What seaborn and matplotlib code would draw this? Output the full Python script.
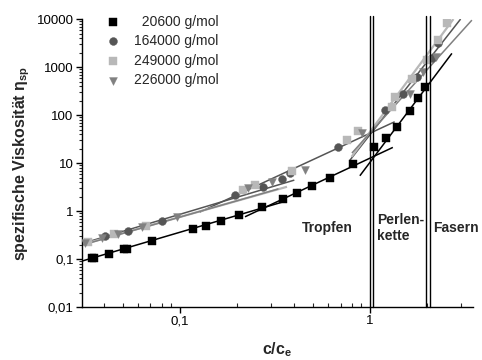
import numpy as np
import pandas as pd
import matplotlib
matplotlib.use("Agg")
import matplotlib.pyplot as plt
import seaborn as sns
from matplotlib.ticker import FixedLocator, NullFormatter, LogLocator

# ---------------- data ----------------
labels = ["  20600 g/mol", "164000 g/mol", "249000 g/mol", "226000 g/mol"]

x_20600 = [0.0343, 0.0354, 0.0423, 0.0507, 0.0526, 0.071, 0.1175, 0.137, 0.164, 0.204,
           0.272, 0.35, 0.411, 0.493, 0.616, 0.817, 1.05, 1.21, 1.38, 1.62, 1.80, 1.96]
y_20600 = [0.106, 0.106, 0.125, 0.159, 0.159, 0.237, 0.415, 0.49, 0.63, 0.84,
           1.23, 1.78, 2.34, 3.27, 4.94, 9.4, 21.2, 32.7, 55.4, 123, 229, 389]

x_164000 = [0.0403, 0.0534, 0.080, 0.195, 0.275, 0.343, 0.379, 0.681, 1.2, 1.49, 1.76, 2.11, 2.29]
y_164000 = [0.30, 0.38, 0.62, 2.15, 3.2, 4.57, 6.1, 21.9, 127, 270, 610, 1520, 3120]

x_249000 = [0.033, 0.045, 0.066, 0.215, 0.248, 0.39, 0.754, 0.868, 1.3, 1.35, 1.66, 1.99, 2.29, 2.53]
y_249000 = [0.23, 0.33, 0.50, 2.74, 3.47, 6.8, 30.1, 47.1, 150, 240, 562, 1400, 3650, 8400]

x_226000 = [0.0316, 0.0387, 0.0473, 0.0629, 0.096, 0.229, 0.304, 0.455, 0.904, 1.62, 1.91, 2.24]
y_226000 = [0.22, 0.28, 0.34, 0.47, 0.74, 2.97, 4.08, 7.15, 41.6, 270, 800, 1640]

# fit lines (end points) per series: (x0, x1), (y0, y1)
fit_20600_x = [(0.0305, 0.35), (0.22, 1.32), (0.885, 2.70)]
fit_20600_y = [(0.0908, 1.56), (0.76, 21.2), (5.44, 1929)]
fit_164000_x = [(0.0305, 0.40), (0.127, 1.35), (0.785, 3.0)]
fit_164000_y = [(0.21, 4.42), (0.95, 72.6), (11.5, 10000)]
fit_249000_x = [(0.0305, 0.366), (0.80, 2.75)]
fit_249000_y = [(0.20, 3.21), (13.5, 10000)]
fit_226000_x = [(0.0305, 0.33), (0.804, 3.44)]
fit_226000_y = [(0.195, 2.9), (16.2, 9500)]

# regime boundaries (double lines)
boundary_x = [1.0, 1.04, 1.97, 2.07]
regime_labels = ["Tropfen", "Perlen-\nkette", "Fasern"]

xtick_vals = [0.1, 1]
xtick_labels = ["0,1", "1"]
ytick_vals = [0.01, 0.1, 1, 10, 100, 1000, 10000]
ytick_labels = ["0,01", "0,1", "1", "10", "100", "1000", "10000"]

# ---------------- style ----------------
sns.set_theme(style="ticks")
plt.rcParams["font.family"] = ["Liberation Sans", "DejaVu Sans"]
plt.rcParams["mathtext.fontset"] = "custom"
plt.rcParams["mathtext.rm"] = "Liberation Sans"
plt.rcParams["mathtext.bf"] = "Liberation Sans:bold"
plt.rcParams["mathtext.it"] = "Liberation Sans:italic"

colors = ["#000000", "#555555", "#b8b8b8", "#808080"]
markers = ["s", "o", "s", "v"]

fig = plt.figure(figsize=(4.82, 3.6), dpi=100)
ax = fig.add_axes([0.170, 0.147, 0.811, 0.800])

series = [(x_20600, y_20600, fit_20600_x, fit_20600_y),
          (x_164000, y_164000, fit_164000_x, fit_164000_y),
          (x_249000, y_249000, fit_249000_x, fit_249000_y),
          (x_226000, y_226000, fit_226000_x, fit_226000_y)]
lws = [1.1, 1.1, 1.6, 1.1]

# fit lines first
for i, (xs, ys, fx, fy) in enumerate(series):
    for (xa, xb), (ya, yb) in zip(fx, fy):
        ax.plot([xa, xb], [ya, yb], color=colors[i], lw=lws[i], zorder=2, solid_capstyle="butt")

# markers
for i, (xs, ys, fx, fy) in enumerate(series):
    df = pd.DataFrame({"x": xs, "y": ys})
    sns.scatterplot(data=df, x="x", y="y", marker=markers[i], color=colors[i],
                    s=32, edgecolor=colors[i], linewidth=0.3, ax=ax, label=labels[i], zorder=3)

# boundary lines
for bx in boundary_x:
    ax.plot([bx, bx], [0.01, 11500], color="black", lw=1.0, clip_on=False, zorder=4)

ax.set_xscale("log")
ax.set_yscale("log")
ax.set_xlim(0.0305, 3.48)
ax.set_ylim(0.01, 10000)

ax.xaxis.set_major_locator(FixedLocator(xtick_vals))
ax.set_xticklabels(xtick_labels)
ax.yaxis.set_major_locator(FixedLocator(ytick_vals))
ax.set_yticklabels(ytick_labels)
ax.xaxis.set_minor_locator(LogLocator(base=10, subs=np.arange(2, 10)))
ax.yaxis.set_minor_locator(LogLocator(base=10, subs=np.arange(2, 10), numticks=20))
ax.xaxis.set_minor_formatter(NullFormatter())
ax.yaxis.set_minor_formatter(NullFormatter())

ax.tick_params(axis="both", which="major", length=4, width=1, direction="out",
               labelsize=9.5, colors="black", pad=2)
ax.tick_params(axis="y", which="minor", length=2.2, width=0.8, direction="out")
ax.tick_params(axis="x", which="minor", length=3, width=0.8, direction="in")

for s in ["top", "right"]:
    ax.spines[s].set_visible(False)
for s in ["left", "bottom"]:
    ax.spines[s].set_linewidth(1.0)
    ax.spines[s].set_color("black")

ax.set_xlabel("c/c$_\\mathbf{e}$", fontsize=11.5, fontweight="bold", labelpad=9)
ax.set_ylabel("spezifische Viskosität η$_\\mathbf{sp}$", fontsize=11.5, fontweight="bold", labelpad=3)

ax.text(0.594, 0.44, regime_labels[0], fontsize=10, fontweight="bold", ha="center", va="center")
ax.text(1.09, 0.44, regime_labels[1], fontsize=10, fontweight="bold", ha="left", va="center",
        linespacing=1.15)
ax.text(2.14, 0.44, regime_labels[2], fontsize=10, fontweight="bold", ha="left", va="center",
        clip_on=False)

leg = ax.legend(loc="upper left", bbox_to_anchor=(0.03, 1.035), frameon=False, fontsize=10,
                handletextpad=0.5, labelspacing=0.4, borderaxespad=0, markerscale=1.0)

fig.savefig("out.png", dpi=100)
